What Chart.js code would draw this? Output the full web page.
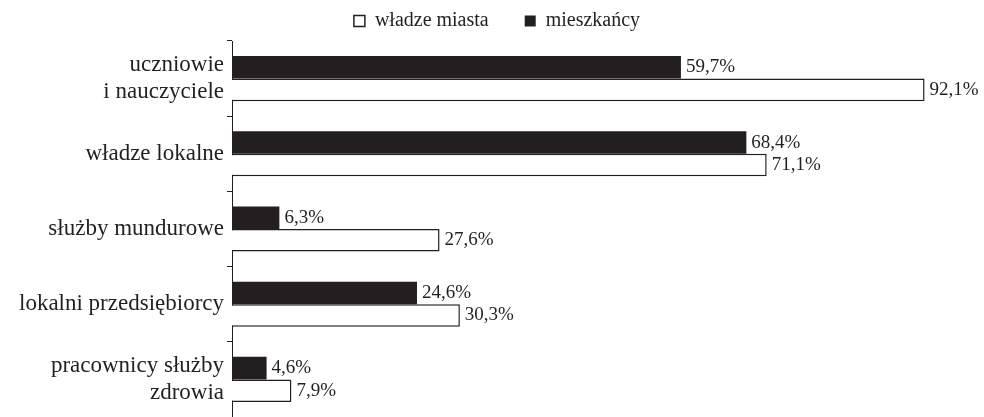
<!DOCTYPE html>
<html>
<head>
<meta charset="utf-8">
<script src="https://cdn.jsdelivr.net/npm/chart.js@4/dist/chart.umd.min.js"></script>
<style>
  body { margin: 0; background: #fff; }
  #wrap { width: 984px; height: 417px; }
</style>
</head>
<body>
<div id="wrap"><canvas id="bar-chart"></canvas></div>
<script>
const categories = [
  ["uczniowie", "i nauczyciele"],
  "władze lokalne",
  "służby mundurowe",
  "lokalni przedsiębiorcy",
  ["pracownicy służby", "zdrowia"]
];
const mieszkancy = [59.7, 68.4, 6.3, 24.6, 4.6];
const wladzeMiasta = [92.1, 71.1, 27.6, 30.3, 7.9];

// percent labels at the end of each bar
const valueLabels = {
  id: "valueLabels",
  afterDatasetsDraw(chart) {
    const ctx = chart.ctx;
    ctx.save();
    ctx.font = "19px 'Liberation Serif'";
    ctx.fillStyle = "#231f20";
    ctx.textAlign = "left";
    ctx.textBaseline = "middle";
    chart.data.datasets.forEach((ds, i) => {
      chart.getDatasetMeta(i).data.forEach((bar, j) => {
        const txt = ds.data[j].toFixed(1).replace(".", ",") + "%";
        ctx.fillText(txt, bar.x + 5, bar.y);
      });
    });
    ctx.restore();
  }
};

let chart = new Chart(document.getElementById("bar-chart"), {
  type: "bar",
  data: {
    labels: categories,
    datasets: [
      {
        label: "mieszkańcy",
        data: mieszkancy,
        backgroundColor: "#231f20",
        borderColor: "#231f20",
        borderWidth: 0
      },
      {
        label: "władze miasta",
        data: wladzeMiasta,
        backgroundColor: "#fff",
        borderColor: "#231f20",
        borderWidth: 1.5
      }
    ]
  },
  options: {
    indexAxis: "y",
    responsive: true,
    maintainAspectRatio: false,
    animation: false,
    datasets: {
      bar: { categoryPercentage: 0.6, barPercentage: 1.0 }
    },
    layout: { padding: { left: 10, right: 0, top: 0, bottom: 0 } },
    scales: {
      x: {
        display: false,
        min: 0,
        max: 100
      },
      y: {
        afterFit(scale) {
          scale.width = 222;
          scale.paddingTop = 0;
          scale.paddingBottom = 0;
        },
        grid: {
          display: true,
          drawOnChartArea: false,
          drawTicks: true,
          tickLength: 5,
          color: "#231f20",
          offset: true
        },
        border: { display: true, color: "#231f20", width: 1 },
        ticks: {
          color: "#231f20",
          padding: 3,
          font: { family: "'Liberation Serif'", size: 23, lineHeight: 1.2 }
        }
      }
    },
    plugins: {
      tooltip: { enabled: false },
      legend: {
        display: true,
        position: "top",
        reverse: true,
        labels: {
          color: "#231f20",
          boxWidth: 11,
          boxHeight: 11,
          padding: 11,
          font: { family: "'Liberation Serif'", size: 20 },
          generateLabels(c) {
            const items = Chart.defaults.plugins.legend.labels.generateLabels(c);
            items.forEach(it => {
              if (it.datasetIndex === 1) it.text = it.text + "     ";
            });
            return items;
          }
        }
      }
    }
  },
  plugins: [valueLabels]
});
</script>
</body>
</html>
